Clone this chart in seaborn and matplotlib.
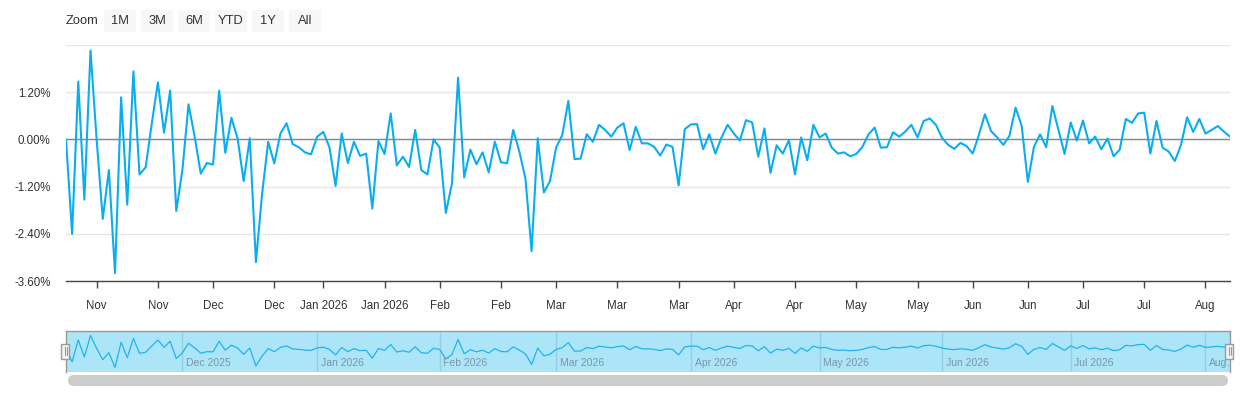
import matplotlib
matplotlib.use("Agg")
import matplotlib.pyplot as plt
from matplotlib.patches import Rectangle, FancyBboxPatch
import numpy as np
import pandas as pd
import seaborn as sns

# trading-day axis (NYSE calendar), Nov 2025 - Aug 2026
start_date = "2025-11-03"
end_date = "2026-08-07"
market_holidays = ["2025-11-27", "2025-12-25", "2026-01-01", "2026-01-19",
                   "2026-02-16", "2026-04-03", "2026-05-25", "2026-06-19",
                   "2026-07-03"]

# daily change in %
nov = [0.00, -2.40, 1.47, -1.53, 2.26, 0.00, -2.02, -0.78, -3.40, 1.07,
       -1.66, 1.73, -0.89, -0.71, 0.40, 1.45, 0.17, 1.24, -1.82]
dec = [-0.78, 0.89, 0.07, -0.87, -0.60, -0.64, 1.24, -0.34, 0.55, 0.03,
       -1.06, 0.03, -3.12, -1.40, -0.06, -0.61, 0.15, 0.41, -0.12, -0.20,
       -0.33, -0.38]
jan = [0.07, 0.19, -0.20, -1.18, 0.15, -0.60, -0.06, -0.42, -0.36, -1.76,
       -0.04, -0.37, 0.66, -0.66, -0.44, -0.70, 0.24, -0.78, -0.89, 0.00]
feb = [-0.21, -1.87, -1.12, 1.57, -0.97, -0.26, -0.63, -0.33, -0.84, -0.06,
       -0.58, -0.61, 0.24, -0.31, -1.00, -2.84, 0.03, -1.35, -1.06]
mar = [-0.21, 0.11, 0.98, -0.50, -0.49, 0.13, -0.06, 0.37, 0.24, 0.07,
       0.30, 0.41, -0.27, 0.32, -0.10, -0.10, -0.19, -0.41, -0.13, -0.19,
       -1.17, 0.26]
apr = [0.38, 0.39, -0.25, 0.13, -0.36, 0.05, 0.37, 0.15, -0.03, 0.49,
       0.43, -0.44, 0.28, -0.85, -0.15, -0.36, -0.02, -0.89, 0.05, -0.53,
       0.37]
may = [0.05, 0.15, -0.21, -0.36, -0.33, -0.43, -0.37, -0.19, 0.13, 0.30,
       -0.21, -0.20, 0.18, 0.07, 0.20, 0.37, 0.05, 0.47, 0.53, 0.37]
jun = [0.04, -0.14, -0.24, -0.09, -0.17, -0.36, 0.11, 0.64, 0.21, 0.05,
       -0.14, 0.09, 0.81, 0.34, -1.08, -0.19, 0.13, -0.20, 0.85, 0.24,
       -0.37]
jul = [0.43, -0.03, 0.48, -0.10, 0.07, -0.25, 0.02, -0.43, -0.26, 0.52,
       0.42, 0.66, 0.68, -0.36, 0.47, -0.21, -0.31, -0.55, -0.14, 0.56,
       0.19, 0.52]
aug = [0.15, 0.24, 0.34, 0.20, 0.07]

# axis ticks every other Monday, y ticks in %
x_tick_dates = ["2025-11-10", "2025-11-24", "2025-12-08", "2025-12-22",
                "2026-01-05", "2026-01-19", "2026-02-02", "2026-02-16",
                "2026-03-02", "2026-03-16", "2026-03-30", "2026-04-13",
                "2026-04-27", "2026-05-11", "2026-05-25", "2026-06-08",
                "2026-06-22", "2026-07-06", "2026-07-20", "2026-08-03"]
y_ticks = [-3.6, -2.4, -1.2, 0.0, 1.2, 2.4]
zoom_buttons = ["1M", "3M", "6M", "YTD", "1Y", "All"]

dates = pd.bdate_range(start_date, end_date, freq="C", holidays=market_holidays)
values = nov + dec + jan + feb + mar + apr + may + jun + jul + aug
df = pd.DataFrame({"date": dates, "pos": np.arange(len(dates)), "change": values})

LINE = "#0aaeef"
TEXT = "#333333"

sns.set_style("white")
plt.rcParams["font.family"] = ["Liberation Sans", "DejaVu Sans"]

fig = plt.figure(figsize=(12.4, 4.0), dpi=100)
ax = fig.add_axes([66 / 1240, 1 - 281 / 400, 1164 / 1240, 236 / 400])
nav = fig.add_axes([66 / 1240, 1 - 372 / 400, 1164 / 1240, 41 / 400])

# main chart
for v in y_ticks:
    ax.axhline(v, color="#e6e6e6", lw=1, zorder=0)
ax.axhline(0, color="#7f8a95", lw=1, zorder=1)
sns.lineplot(data=df, x="pos", y="change", ax=ax, color=LINE, lw=1.5, zorder=3)
ax.set_xlim(0, len(df) - 1)
ax.set_ylim(-3.6, 2.4)
ax.set_xlabel("")
ax.set_ylabel("")
for s in ["top", "right", "left"]:
    ax.spines[s].set_visible(False)
ax.spines["bottom"].set_color("#444444")
ax.spines["bottom"].set_linewidth(1)

tick_pos = df["date"].searchsorted(pd.to_datetime(x_tick_dates))
tick_lab = [d.strftime("%b %Y") if d.month == 1 else d.strftime("%b")
            for d in pd.to_datetime(x_tick_dates)]
ax.set_xticks(tick_pos)
ax.set_xticklabels(tick_lab, fontsize=8.3, color=TEXT)
ax.tick_params(axis="x", direction="out", length=5, width=1, color="#444444",
               pad=9, bottom=True)
ax.set_yticks(y_ticks)
ax.set_yticklabels([f"{v:.2f}%" if v < 2 else "" for v in y_ticks],
                   fontsize=8.3, color=TEXT)
ax.tick_params(axis="y", length=0, pad=11)

# navigator
nav.set_facecolor("#ade5f8")
month_starts = df.groupby(df["date"].dt.to_period("M"))["pos"].min()
for per, p in month_starts.items():
    if p == 0:
        continue
    nav.axvline(p, color="#93d0e8", lw=1, zorder=1)
    lab = per.strftime("%b %Y") if p < len(df) - 10 else "Aug\u2026"
    nav.text(p + 0.6, 0.1, lab, transform=nav.get_xaxis_transform(),
             fontsize=7.5, color="#7896a7", ha="left", va="bottom", clip_on=True)
sns.lineplot(data=df, x="pos", y="change", ax=nav, color="#1fb4ee", lw=0.9, zorder=2)
nav.set_xlim(0, len(df) - 1)
nav.margins(y=0.14)
nav.set_xticks([])
nav.set_yticks([])
nav.set_xlabel("")
nav.set_ylabel("")
for s in ["top", "left", "right"]:
    nav.spines[s].set_color("#999999")
    nav.spines[s].set_linewidth(1)
nav.spines["bottom"].set_visible(False)

# navigator handles
for hx in [61, 1225]:
    fig.patches.append(Rectangle((hx / 1240, 1 - 359 / 400), 8 / 1240, 15 / 400,
                                 transform=fig.transFigure, facecolor="#f2f2f2",
                                 edgecolor="#999999", lw=1, zorder=5))
    for dx in [3.5, 5.5]:
        fig.lines.append(plt.Line2D([(hx + dx) / 1240] * 2, [1 - 355 / 400, 1 - 347 / 400],
                                    transform=fig.transFigure, color="#999999", lw=0.8,
                                    zorder=6))

# scrollbar
fig.patches.append(FancyBboxPatch((68 / 1240, 1 - 386 / 400), 1160 / 1240, 11 / 400,
                                  boxstyle="round,pad=0,rounding_size=0.0045",
                                  transform=fig.transFigure, facecolor="#cccccc",
                                  edgecolor="none", mutation_aspect=3.1))

# range selector
fig.text(66 / 1240, 1 - 21 / 400, "Zoom", fontsize=9.3, color=TEXT, va="center")
for i, b in enumerate(zoom_buttons):
    bx = 104 + i * 37
    fig.patches.append(Rectangle((bx / 1240, 1 - 32 / 400), 32 / 1240, 22 / 400,
                                 transform=fig.transFigure, facecolor="#f7f7f7",
                                 edgecolor="none"))
    fig.text((bx + 16) / 1240, 1 - 21 / 400, b, fontsize=9.3, color=TEXT,
             ha="center", va="center")

fig.savefig("out.png", dpi=100)
